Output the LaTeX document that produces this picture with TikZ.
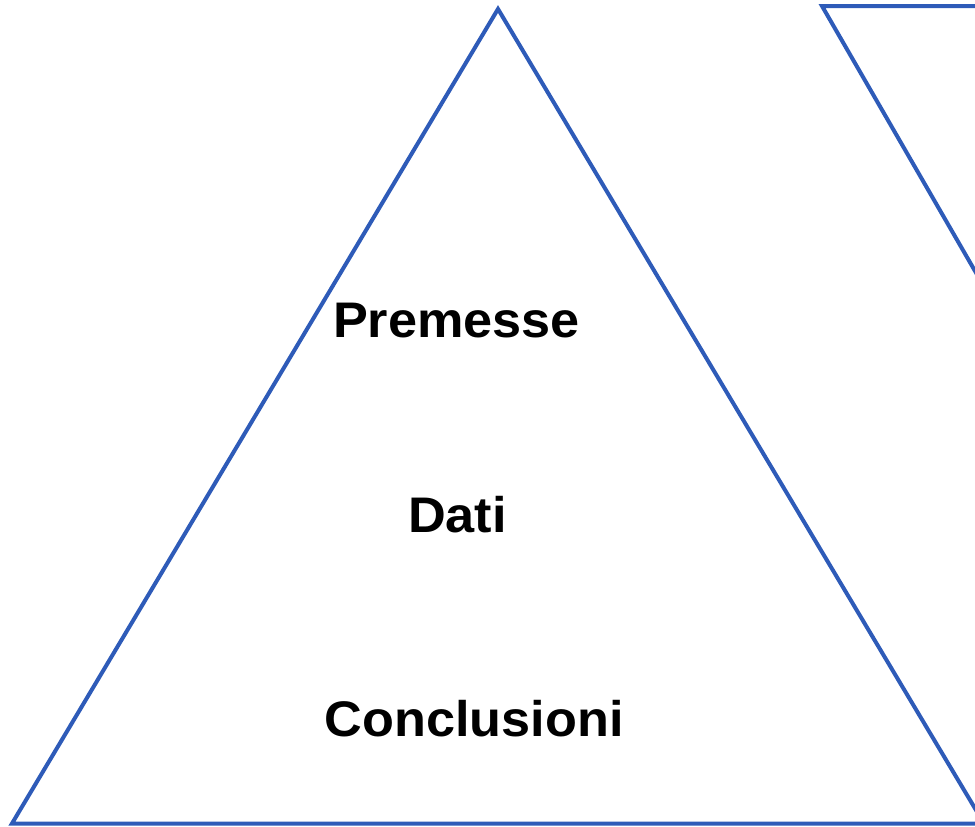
\documentclass[tikz,border=0pt]{standalone}
\usepackage{fontspec}
\setmainfont{Liberation Sans}
\definecolor{triblue}{HTML}{2E5BB8}
\begin{document}
\begin{tikzpicture}[x=1pt,y=-1pt,
  tri/.style={draw=triblue,line width=4pt,line join=miter},
  lbl/.style={font=\fontsize{50}{60}\selectfont\bfseries,anchor=base,inner sep=0pt,xscale=1.045}]
\useasboundingbox (0,0) rectangle (975,827);
\begin{scope}
\clip (0,0) rectangle (975,827);
\coordinate (apex) at (498,9);
\coordinate (bl) at (12,823.5);
\coordinate (br) at (984,823.5);
\draw[tri] (apex) -- (bl) -- (br) -- cycle;
\coordinate (tl2) at (822,6);
\coordinate (tr2) at (1300,6);
\coordinate (bt2) at (1061,420);
\draw[tri] (tl2) -- (tr2) -- (bt2) -- cycle;
\end{scope}
\node[lbl] (premesse) at (456.5,337) {Premesse};
\node[lbl] (dati) at (457.5,532) {Dati};
\node[lbl] (concl) at (474,736) {Conclusioni};
\end{tikzpicture}
\end{document}
